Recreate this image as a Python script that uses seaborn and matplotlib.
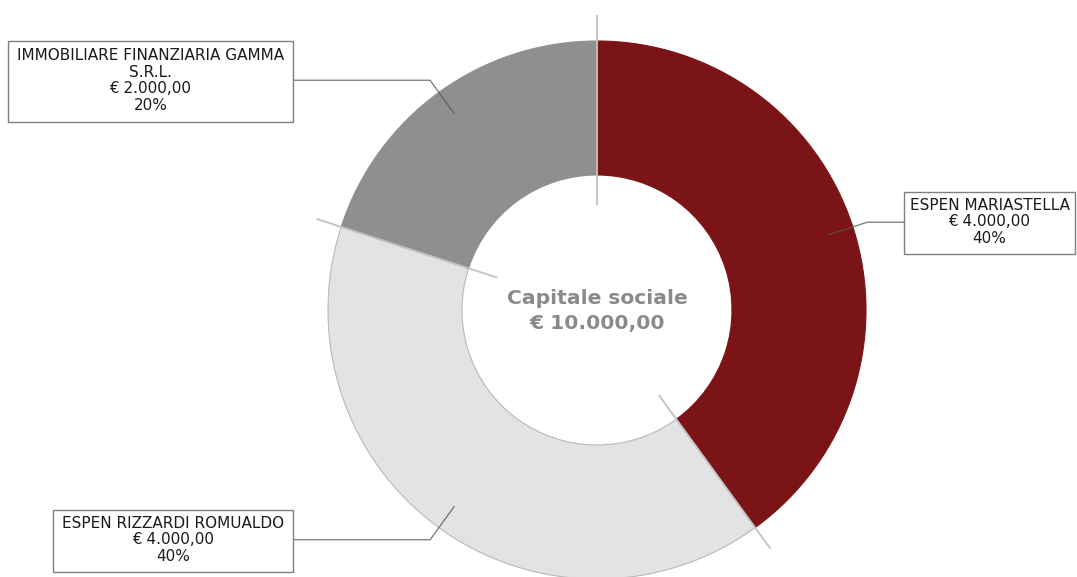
import numpy as np
import matplotlib
matplotlib.use("Agg")
import matplotlib.pyplot as plt
from matplotlib.patches import Rectangle
import seaborn as sns

# ---- data ----
names = ["ESPEN MARIASTELLA", "ESPEN RIZZARDI ROMUALDO", "IMMOBILIARE FINANZIARIA GAMMA\nS.R.L."]
amounts = [4000.00, 4000.00, 2000.00]
percents = [40, 40, 20]
colors = ["#7b1416", "#e3e3e3", "#8f8f8f"]
edge_colors = ["#7b1416", "#b8b8b8", "#8f8f8f"]
center_title = "Capitale sociale"
total_label = "€ 10.000,00"

def euro(v):
    s = f"{v:,.2f}"
    s = s.replace(",", "X").replace(".", ",").replace("X", ".")
    return "€ " + s

sns.set_theme(style="white")
plt.rcParams['font.family'] = ['DejaVu Sans']

W, H = 1077, 577
fig = plt.figure(figsize=(W / 100, H / 100), dpi=100)
ax = fig.add_axes([0, 0, 1, 1])

cx, cy = 597, H - 310
R_out, R_in = 269, 135

wedges, _ = ax.pie(amounts, colors=colors, startangle=90, counterclock=False,
                   radius=R_out, center=(cx, cy),
                   wedgeprops=dict(width=R_out - R_in, linewidth=0.8))
for w, ec in zip(wedges, edge_colors):
    w.set_edgecolor(ec)

ax.set_xlim(0, W)
ax.set_ylim(0, H)
ax.set_aspect("equal")
ax.axis("off")

# separator lines at slice boundaries
cum = np.cumsum([0] + amounts)
tot = cum[-1]
for c in cum[:-1]:
    th = np.deg2rad(c / tot * 360.0)
    dx, dy = np.sin(th), np.cos(th)
    ax.plot([cx + 105 * dx, cx + 295 * dx], [cy + 105 * dy, cy + 295 * dy],
            color="#c2c2c2", lw=1.3, zorder=3, solid_capstyle="butt")

# labels with boxes
boxes = [  # (x0, y0_top, x1, y1_bottom) in pixel coords from top
    (904, 192, 1075, 254),
    (53, 510, 293, 572),
    (8, 41, 293, 122),
]
for i in range(len(amounts)):
    mid = (cum[i] + amounts[i] / 2) / tot * 360.0
    th = np.deg2rad(mid)
    dx, dy = np.sin(th), np.cos(th)
    p0 = (cx + 243 * dx, cy + 243 * dy)
    p1 = (cx + 284 * dx, cy + 284 * dy)
    x0, yt, x1, yb = boxes[i]
    edge_x = x0 if dx > 0 else x1
    ax.plot([p0[0], p1[0], edge_x], [p0[1], p1[1], p1[1]],
            color="#555555", lw=0.9, alpha=0.8, zorder=4)
    ax.add_patch(Rectangle((x0, H - yb), x1 - x0, yb - yt, facecolor="white",
                           edgecolor="#7f7f7f", lw=1.0, zorder=5))
    ax.text((x0 + x1) / 2, H - (yt + yb) / 2 + 1,
            f"{names[i]}\n{euro(amounts[i])}\n{percents[i]}%",
            ha="center", va="center", fontsize=11.0, color="#1a1a1a",
            linespacing=1.12, zorder=6)

ax.text(cx, cy - 1, f"{center_title}\n{total_label}", ha="center", va="center",
        fontsize=14.6, fontweight="bold", color="#8a8a8a", linespacing=1.42, zorder=6)

fig.savefig("out.png", dpi=100)
